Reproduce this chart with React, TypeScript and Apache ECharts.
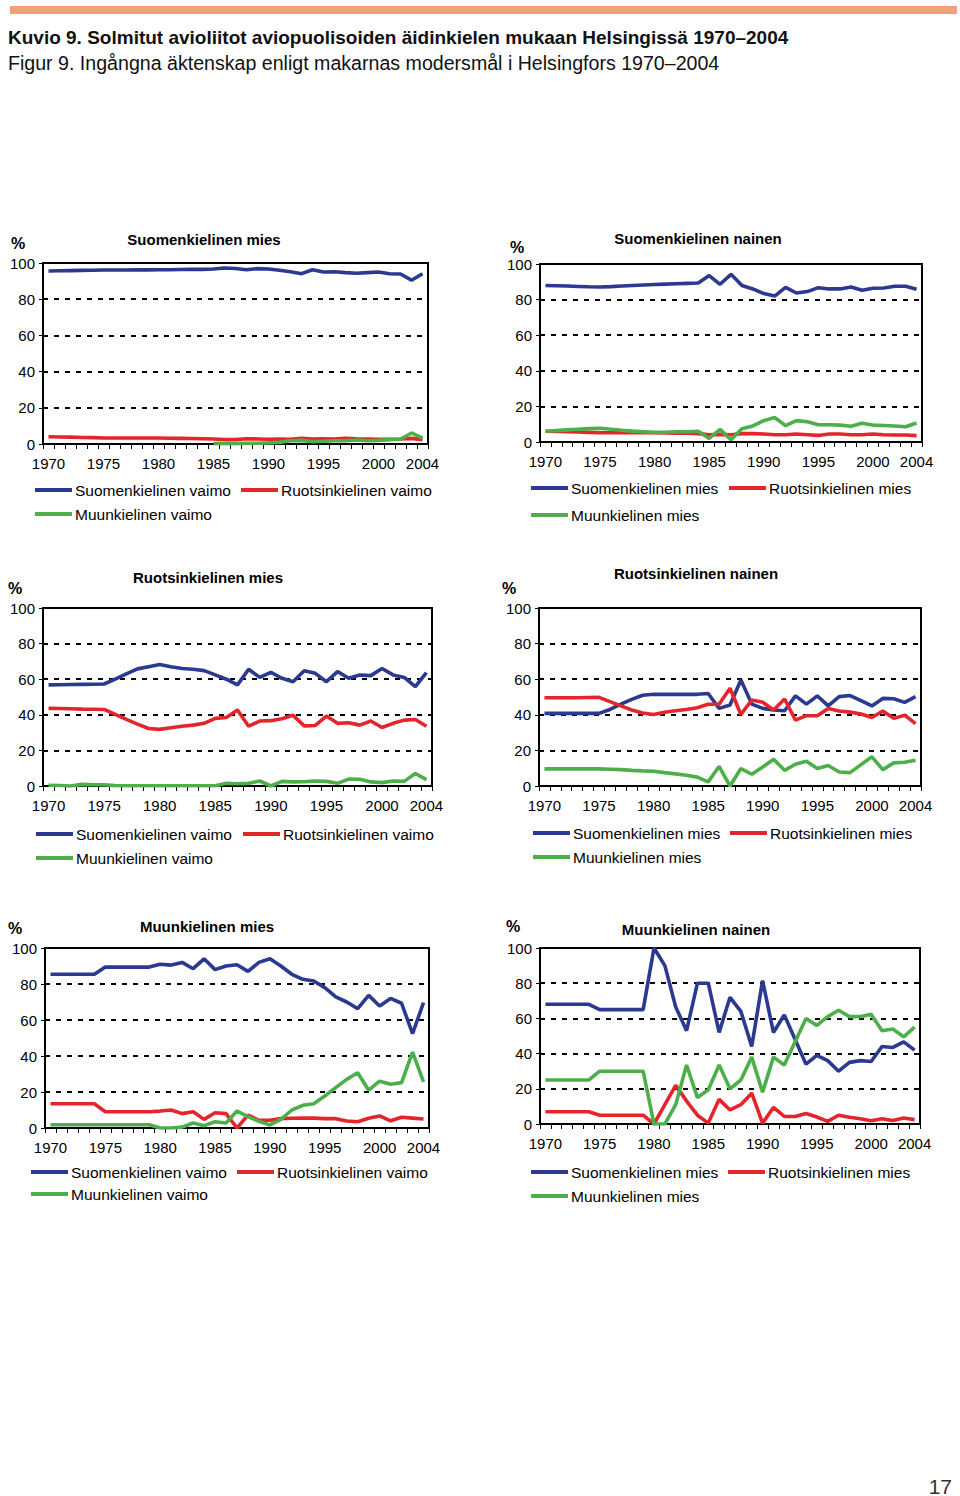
import { useEffect, useRef } from "react";
import * as echarts from "echarts";

// ---------- data ----------
const YEARS = [
  "1970", "1971", "1972", "1973", "1974", "1975", "1976", "1977", "1978", "1979",
  "1980", "1981", "1982", "1983", "1984", "1985", "1986", "1987", "1988", "1989",
  "1990", "1991", "1992", "1993", "1994", "1995", "1996", "1997", "1998", "1999",
  "2000", "2001", "2002", "2003", "2004",
];
const X_LABELS = ["1970", "1975", "1980", "1985", "1990", "1995", "2000", "2004"];

const TITLES = [
  "Suomenkielinen mies",
  "Suomenkielinen nainen",
  "Ruotsinkielinen mies",
  "Ruotsinkielinen nainen",
  "Muunkielinen mies",
  "Muunkielinen nainen",
];
const WIFE_NAMES = ["Suomenkielinen vaimo", "Ruotsinkielinen vaimo", "Muunkielinen vaimo"];
const HUSBAND_NAMES = ["Suomenkielinen mies", "Ruotsinkielinen mies", "Muunkielinen mies"];

// Panel 1: Suomenkielinen mies
const p1Fi = [95.6, 95.7, 95.8, 95.9, 96.0, 96.1, 96.1, 96.1, 96.2, 96.2, 96.3, 96.3, 96.4, 96.5, 96.5, 96.7, 97.2, 97.0, 96.3, 96.9, 96.7, 96.0, 95.2, 94.1, 96.3, 95.0, 95.2, 94.7, 94.3, 94.7, 95.0, 94.1, 93.9, 90.5, 94.1];
const p1Sv = [4.0, 3.9, 3.8, 3.6, 3.5, 3.3, 3.3, 3.3, 3.3, 3.3, 3.3, 3.2, 3.1, 3.0, 2.9, 2.8, 2.4, 2.4, 2.9, 2.8, 2.6, 2.8, 2.6, 3.1, 2.8, 2.9, 2.8, 3.1, 2.9, 2.8, 2.6, 2.6, 2.8, 3.1, 2.4];
const p1Mu = [null, null, null, null, null, null, null, null, null, null, null, null, null, null, null, 0.2, 0.2, 0.2, 0.4, 0.4, 0.6, 0.9, 1.8, 2.0, 1.3, 1.5, 1.8, 1.8, 2.2, 1.8, 2.0, 2.4, 2.6, 6.1, 3.3];

// Panel 2: Suomenkielinen nainen
const p2Fi = [87.9, 87.8, 87.6, 87.4, 87.2, 87.1, 87.3, 87.6, 87.9, 88.2, 88.5, 88.7, 88.9, 89.1, 89.3, 93.5, 88.6, 94.2, 87.9, 86.0, 83.4, 82.0, 86.9, 83.7, 84.5, 86.7, 86.0, 86.0, 87.1, 85.2, 86.4, 86.5, 87.5, 87.5, 85.8];
const p2Sv = [6.0, 5.9, 5.8, 5.6, 5.4, 5.2, 5.2, 5.2, 5.2, 5.2, 5.2, 5.1, 5.0, 4.9, 4.7, 4.1, 4.3, 4.1, 4.7, 4.7, 4.5, 4.1, 4.1, 4.5, 4.1, 3.7, 4.5, 4.5, 4.1, 4.1, 4.5, 4.1, 3.9, 3.9, 3.6];
const p2Mu = [6.0, 6.4, 6.8, 7.2, 7.5, 7.7, 7.2, 6.6, 6.1, 5.8, 5.4, 5.5, 5.7, 5.8, 6.0, 2.0, 7.1, 1.3, 7.5, 9.0, 12.0, 13.8, 9.2, 12.0, 11.4, 9.7, 9.7, 9.5, 8.8, 10.5, 9.5, 9.3, 9.0, 8.6, 10.7];

// Panel 3: Ruotsinkielinen mies
const p3Fi = [56.8, 56.9, 57.0, 57.1, 57.2, 57.3, 60.0, 63.0, 65.8, 67.0, 68.2, 67.0, 66.0, 65.6, 64.8, 62.4, 60.0, 56.8, 65.6, 61.0, 63.9, 60.5, 58.6, 64.7, 63.3, 58.6, 64.3, 60.5, 62.4, 62.0, 66.0, 62.4, 61.0, 55.8, 63.7];
const p3Sv = [43.6, 43.5, 43.4, 43.2, 43.1, 43.0, 40.2, 37.4, 34.8, 32.3, 31.8, 32.7, 33.6, 34.2, 35.2, 38.0, 38.5, 42.7, 33.6, 36.5, 36.7, 37.8, 39.7, 33.8, 34.0, 39.3, 35.2, 35.5, 34.2, 36.5, 32.9, 35.2, 37.0, 37.4, 33.6];
const p3Mu = [0.4, 0.3, 0.0, 0.9, 0.7, 0.7, 0.2, 0.1, 0.1, 0.1, 0.1, 0.1, 0.1, 0.1, 0.1, 0.1, 1.5, 1.3, 1.5, 2.8, 0.0, 2.6, 2.3, 2.4, 2.8, 2.6, 1.5, 3.9, 3.8, 2.3, 1.9, 2.8, 2.6, 7.0, 3.6];

// Panel 4: Ruotsinkielinen nainen
const p4Fi = [40.8, 40.8, 40.8, 40.8, 40.8, 40.8, 43.0, 46.0, 48.7, 51.0, 51.5, 51.5, 51.5, 51.5, 51.5, 52.0, 43.6, 45.5, 59.6, 46.0, 43.6, 42.7, 42.3, 50.6, 46.0, 50.6, 45.0, 50.2, 50.8, 48.0, 45.0, 49.2, 49.0, 47.0, 50.2];
const p4Sv = [49.6, 49.6, 49.6, 49.6, 49.7, 49.8, 47.4, 45.0, 42.7, 41.0, 40.2, 41.4, 42.3, 43.0, 44.0, 45.9, 45.9, 54.9, 40.2, 48.3, 47.0, 42.7, 48.9, 37.0, 39.5, 39.5, 43.6, 42.1, 41.5, 40.4, 38.5, 42.1, 38.0, 39.8, 35.0];
const p4Mu = [9.6, 9.6, 9.6, 9.6, 9.6, 9.6, 9.4, 9.2, 8.8, 8.5, 8.3, 7.5, 6.8, 6.0, 5.0, 2.3, 11.0, 0.0, 9.8, 6.6, 10.7, 15.0, 8.8, 12.2, 13.9, 9.8, 11.5, 7.9, 7.5, 12.0, 16.4, 9.2, 13.0, 13.3, 14.5];

// Panel 5: Muunkielinen mies
const p5Fi = [85.4, 85.4, 85.4, 85.4, 85.4, 89.4, 89.4, 89.4, 89.4, 89.4, 91.0, 90.5, 92.0, 88.5, 94.0, 88.0, 90.0, 90.7, 87.0, 92.0, 94.0, 90.0, 85.4, 82.6, 81.7, 78.0, 72.8, 70.0, 66.3, 73.7, 67.8, 72.0, 69.3, 52.4, 69.6];
const p5Sv = [13.5, 13.5, 13.5, 13.5, 13.5, 9.0, 9.0, 9.0, 9.0, 9.0, 9.4, 10.0, 8.0, 9.0, 4.8, 8.5, 8.0, 0.0, 7.2, 4.3, 4.3, 5.2, 5.4, 5.5, 5.5, 5.2, 5.2, 3.9, 3.5, 5.4, 6.7, 4.0, 6.0, 5.5, 5.0];
const p5Mu = [1.8, 1.8, 1.8, 1.8, 1.8, 1.8, 1.8, 1.8, 1.8, 1.8, 0.0, 0.0, 0.5, 2.8, 1.3, 3.5, 2.8, 9.4, 6.3, 3.7, 1.7, 4.8, 10.0, 12.6, 13.5, 17.8, 22.4, 27.0, 30.7, 21.0, 26.0, 24.3, 25.2, 42.2, 25.6];

// Panel 6: Muunkielinen nainen
const p6Fi = [68, 68, 68, 68, 68, 65, 65, 65, 65, 65, 100, 90, 66.5, 53, 80, 80, 52, 72, 64, 44, 81.5, 52, 62, 48, 34, 39, 36, 30, 35, 36, 35.5, 44, 43.5, 46.7, 42];
const p6Sv = [7, 7, 7, 7, 7, 5, 5, 5, 5, 5, 0, 11, 22, 13, 5, 0.5, 14, 8, 11, 17.5, 0.5, 9.4, 4.3, 4.3, 6, 4, 1.5, 5, 3.8, 3, 1.8, 3, 2, 3.4, 2.5];
const p6Mu = [25, 25, 25, 25, 25, 30, 30, 30, 30, 30, 0, 0, 11, 33.5, 15, 19.5, 33.5, 20, 25, 38, 18, 38, 33.5, 46.7, 60, 56, 61, 64.6, 61, 61, 62.3, 53, 54, 49.5, 55];

const PANEL_DATA = [
  [p1Fi, p1Sv, p1Mu],
  [p2Fi, p2Sv, p2Mu],
  [p3Fi, p3Sv, p3Mu],
  [p4Fi, p4Sv, p4Mu],
  [p5Fi, p5Sv, p5Mu],
  [p6Fi, p6Sv, p6Mu],
];
const PANEL_NAMES = [WIFE_NAMES, HUSBAND_NAMES, WIFE_NAMES, HUSBAND_NAMES, WIFE_NAMES, HUSBAND_NAMES];

// ---------- layout / style ----------
const COLORS = ["#2B3990", "#E4262C", "#4DAF4A"];
const FONT = "'Liberation Sans', Arial, sans-serif";

const LAYOUT = [
  { grid: [43, 263, 385, 181], title: [204, 239], pct: [18, 243], rows: [490, 514], xs: [35, 241, 35] },
  { grid: [540, 264, 382, 178], title: [698, 238], pct: [517, 247], rows: [488, 515], xs: [531, 729, 531] },
  { grid: [43, 608, 389, 178], title: [208, 577], pct: [15, 588], rows: [834, 858], xs: [36, 243, 36] },
  { grid: [539, 608, 382, 178], title: [696, 573], pct: [509, 588], rows: [833, 857], xs: [533, 730, 533] },
  { grid: [45, 948, 384, 180], title: [207, 926], pct: [15, 928], rows: [1172, 1194], xs: [31, 237, 31] },
  { grid: [540, 948, 380, 176], title: [696, 929], pct: [513, 926], rows: [1172, 1196], xs: [531, 728, 531] },
];

function buildOption() {
  const grid: any[] = [];
  const xAxis: any[] = [];
  const yAxis: any[] = [];
  const series: any[] = [];
  const legend: any[] = [];
  const graphic: any[] = [];

  graphic.push({
    type: "rect",
    shape: { x: 10, y: 6, width: 947, height: 8 },
    style: { fill: "#F2A07B" },
  });
  graphic.push({
    type: "text",
    x: 8,
    y: 37,
    style: {
      text: "Kuvio 9. Solmitut avioliitot aviopuolisoiden äidinkielen mukaan Helsingissä 1970–2004",
      fontSize: 19,
      fontWeight: "bold",
      fontFamily: FONT,
      fill: "#111",
      verticalAlign: "middle",
    },
  });
  graphic.push({
    type: "text",
    x: 8,
    y: 63,
    style: {
      text: "Figur 9. Ingångna äktenskap enligt makarnas modersmål i Helsingfors 1970–2004",
      fontSize: 19.6,
      fontFamily: FONT,
      fill: "#111",
      verticalAlign: "middle",
    },
  });
  graphic.push({
    type: "text",
    x: 952,
    y: 1486,
    style: { text: "17", fontSize: 21, fontFamily: FONT, fill: "#333", align: "right", verticalAlign: "middle" },
  });

  LAYOUT.forEach((L, k) => {
    const [gl, gt, gw, gh] = L.grid;
    grid.push({ left: gl, top: gt, width: gw, height: gh, show: true, borderColor: "#000", borderWidth: 2, backgroundColor: "transparent" });
    xAxis.push({
      type: "category",
      gridIndex: k,
      data: YEARS,
      boundaryGap: true,
      axisLine: { lineStyle: { color: "#000", width: 2 } },
      axisTick: { show: true, interval: 0, length: 5, lineStyle: { color: "#000", width: 1 } },
      axisLabel: {
        interval: (_i: number, v: string) => X_LABELS.includes(v),
        fontSize: 15,
        color: "#000",
        fontFamily: FONT,
        margin: 12,
      },
      splitLine: { show: false },
    });
    yAxis.push({
      type: "value",
      gridIndex: k,
      min: 0,
      max: 100,
      interval: 20,
      axisLine: { show: true, lineStyle: { color: "#000", width: 2 } },
      axisTick: { show: true, length: 4, lineStyle: { color: "#000" } },
      axisLabel: { fontSize: 15, color: "#000", fontFamily: FONT, margin: 8 },
      splitLine: { show: true, lineStyle: { color: "#000", width: 2, type: [5, 6] } },
    });
    const names = PANEL_NAMES[k];
    PANEL_DATA[k].forEach((d, s) => {
      series.push({
        type: "line",
        name: names[s],
        xAxisIndex: k,
        yAxisIndex: k,
        data: d,
        showSymbol: false,
        symbol: "none",
        connectNulls: false,
        color: COLORS[s],
        lineStyle: { color: COLORS[s], width: 3.6 },
        z: 3 + s,
      });
    });
    names.forEach((n, s) => {
      legend.push({
        left: L.xs[s],
        top: L.rows[s < 2 ? 0 : 1] - 9,
        padding: 0,
        data: [n],
        icon: "rect",
        itemWidth: 37,
        itemHeight: 4,
        selectedMode: false,
        textStyle: { fontSize: 15.5, color: "#000", fontFamily: FONT, lineHeight: 18, padding: [0, 0, 0, -2] },
      });
    });
    graphic.push({
      type: "text",
      x: L.title[0],
      y: L.title[1],
      style: { text: TITLES[k], fontSize: 15, fontWeight: "bold", fontFamily: FONT, fill: "#000", align: "center", verticalAlign: "middle" },
    });
    graphic.push({
      type: "text",
      x: L.pct[0],
      y: L.pct[1],
      style: { text: "%", fontSize: 16, fontWeight: "bold", fontFamily: FONT, fill: "#000", align: "center", verticalAlign: "middle" },
    });
  });

  return {
    animation: false,
    backgroundColor: "#fff",
    grid,
    xAxis,
    yAxis,
    series,
    legend,
    graphic,
  };
}

export default function App() {
  const ref = useRef<HTMLDivElement>(null);
  useEffect(() => {
    if (!ref.current) return;
    const chart = echarts.init(ref.current, null, { renderer: "svg" });
    chart.setOption(buildOption());
    return () => chart.dispose();
  }, []);
  return (
    <div
      ref={ref}
      style={{ position: "absolute", left: 0, top: 0, width: 960, height: 1496, background: "#fff" }}
    />
  );
}
